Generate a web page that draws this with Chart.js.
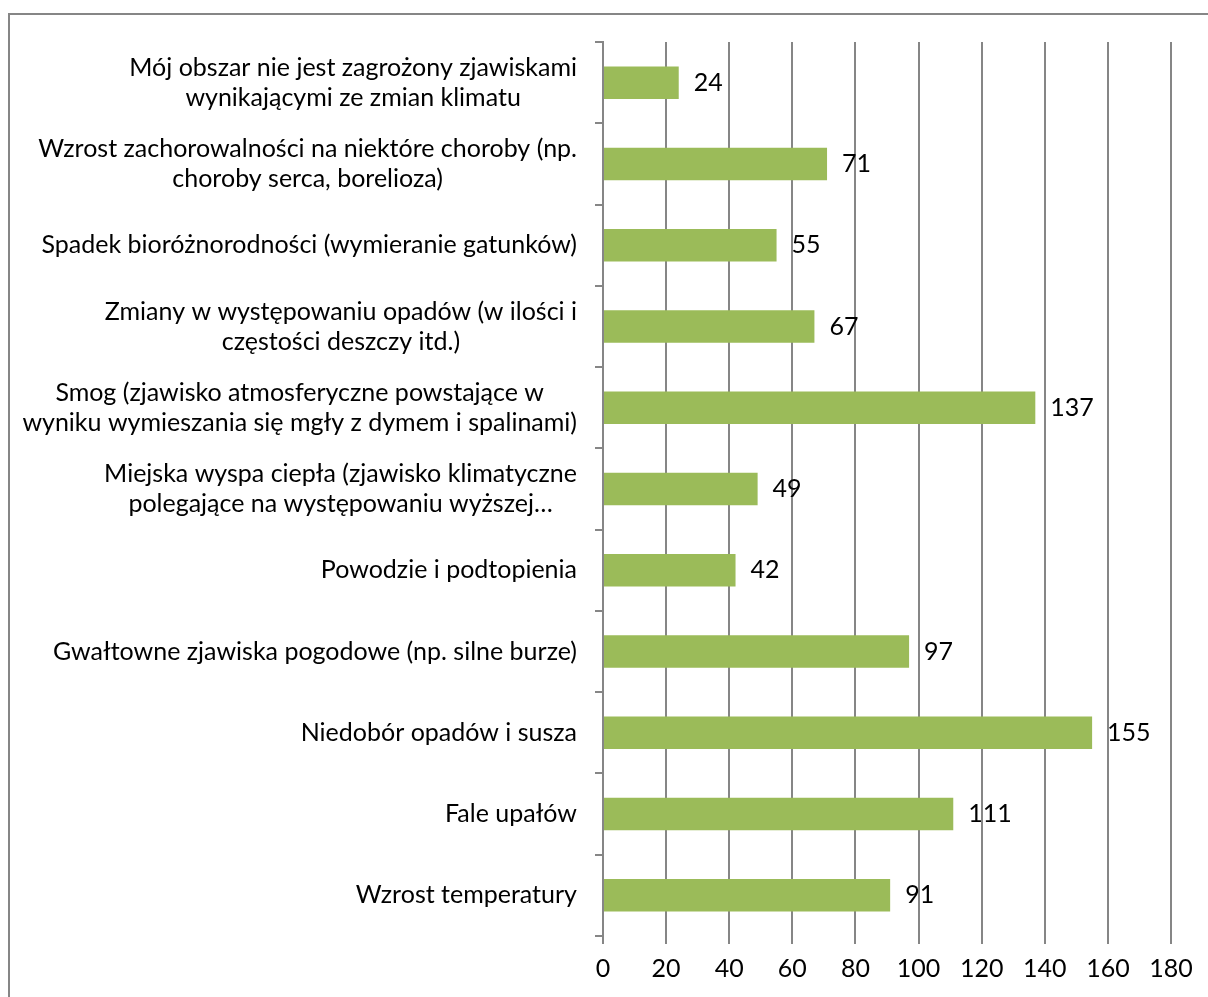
<!DOCTYPE html>
<html>
<head>
<meta charset="utf-8">
<script src="https://cdn.jsdelivr.net/npm/chart.js@4/dist/chart.umd.min.js"></script>
<style>
  html, body { margin: 0; padding: 0; background: #fff; }
  #wrap { width: 1208px; height: 997px; position: relative; }
</style>
</head>
<body>
<div id="wrap"><canvas id="chart" width="1208" height="997"></canvas></div>
<script>
// categories, top to bottom
const categories = [
  ['Mój obszar nie jest zagrożony zjawiskami', 'wynikającymi ze zmian klimatu'],
  ['Wzrost zachorowalności na niektóre choroby (np.', 'choroby serca, borelioza)'],
  ['Spadek bioróżnorodności (wymieranie gatunków)'],
  ['Zmiany w występowaniu opadów (w ilości i', 'częstości deszczy itd.)'],
  ['Smog (zjawisko atmosferyczne powstające w', 'wyniku wymieszania się mgły z dymem i spalinami)'],
  ['Miejska wyspa ciepła (zjawisko klimatyczne', 'polegające na występowaniu wyższej…'],
  ['Powodzie i podtopienia'],
  ['Gwałtowne zjawiska pogodowe (np. silne burze)'],
  ['Niedobór opadów i susza'],
  ['Fale upałów'],
  ['Wzrost temperatury']
];
const responses = [24, 71, 55, 67, 137, 49, 42, 97, 155, 111, 91];
const xTicks = [0, 20, 40, 60, 80, 100, 120, 140, 160, 180];

const FAMILY = 'Lato, Carlito, Calibri, sans-serif';
const FONT = '25px ' + FAMILY;
const GREEN = '#9BBB59';
const GREY = '#868686';

// outer frame of the chart area
const frame = {
  id: 'frame',
  beforeDraw(chart) {
    const ctx = chart.ctx;
    ctx.save();
    ctx.fillStyle = '#fff';
    ctx.fillRect(0, 0, chart.width, chart.height);
    ctx.strokeStyle = GREY;
    ctx.lineWidth = 2;
    ctx.strokeRect(9, 14, chart.width + 10, chart.height + 10);
    ctx.restore();
  }
};

// category labels: block right-aligned to the axis, lines centred inside it
const catLabels = {
  id: 'catLabels',
  afterDraw(chart) {
    const ctx = chart.ctx;
    const y = chart.scales.y;
    const right = y.right - 26;
    const lh = 30;
    ctx.save();
    ctx.font = FONT;
    ctx.fillStyle = '#000';
    ctx.textBaseline = 'middle';
    ctx.textAlign = 'center';
    categories.forEach((lines, i) => {
      const cy = y.getPixelForValue(i);
      const w = Math.max(...lines.map(l => ctx.measureText(l).width));
      const cx = right - w / 2;
      const top = cy - (lines.length - 1) * lh / 2;
      lines.forEach((l, k) => ctx.fillText(l, cx, top + k * lh));
    });
    ctx.restore();
  }
};

// value labels at the end of each bar
const valueLabels = {
  id: 'valueLabels',
  afterDatasetsDraw(chart) {
    const ctx = chart.ctx;
    const meta = chart.getDatasetMeta(0);
    ctx.save();
    ctx.font = FONT;
    ctx.fillStyle = '#000';
    ctx.textBaseline = 'middle';
    ctx.textAlign = 'left';
    meta.data.forEach((bar, i) => {
      ctx.fillText(String(responses[i]), bar.x + 15, bar.y);
    });
    ctx.restore();
  }
};

new Chart(document.getElementById('chart'), {
  type: 'bar',
  data: {
    labels: categories.map(c => c.join(' ')),
    datasets: [{
      data: responses,
      backgroundColor: GREEN,
      borderWidth: 0,
      categoryPercentage: 1,
      barPercentage: 0.4
    }]
  },
  options: {
    indexAxis: 'y',
    responsive: false,
    animation: false,
    layout: { padding: { top: 42, right: 37, bottom: 0, left: 0 } },
    plugins: {
      legend: { display: false },
      tooltip: { enabled: false }
    },
    scales: {
      x: {
        min: 0,
        max: 180,
        afterBuildTicks(scale) {
          scale.ticks = xTicks.map(v => ({ value: v }));
        },
        grid: {
          color: GREY,
          lineWidth: 2,
          tickLength: 8,
          drawTicks: true
        },
        border: { display: false },
        ticks: {
          color: '#000',
          font: { family: FAMILY, size: 25 },
          padding: 10,
          maxRotation: 0
        },
        afterFit(scale) { scale.height = 61; }
      },
      y: {
        grid: {
          offset: true,
          drawOnChartArea: false,
          color: GREY,
          lineWidth: 2,
          tickLength: 8
        },
        border: { display: true, color: GREY, width: 2 },
        ticks: { display: false },
        afterFit(scale) { scale.width = 603; }
      }
    }
  },
  plugins: [frame, valueLabels, catLabels]
});
</script>
</body>
</html>
